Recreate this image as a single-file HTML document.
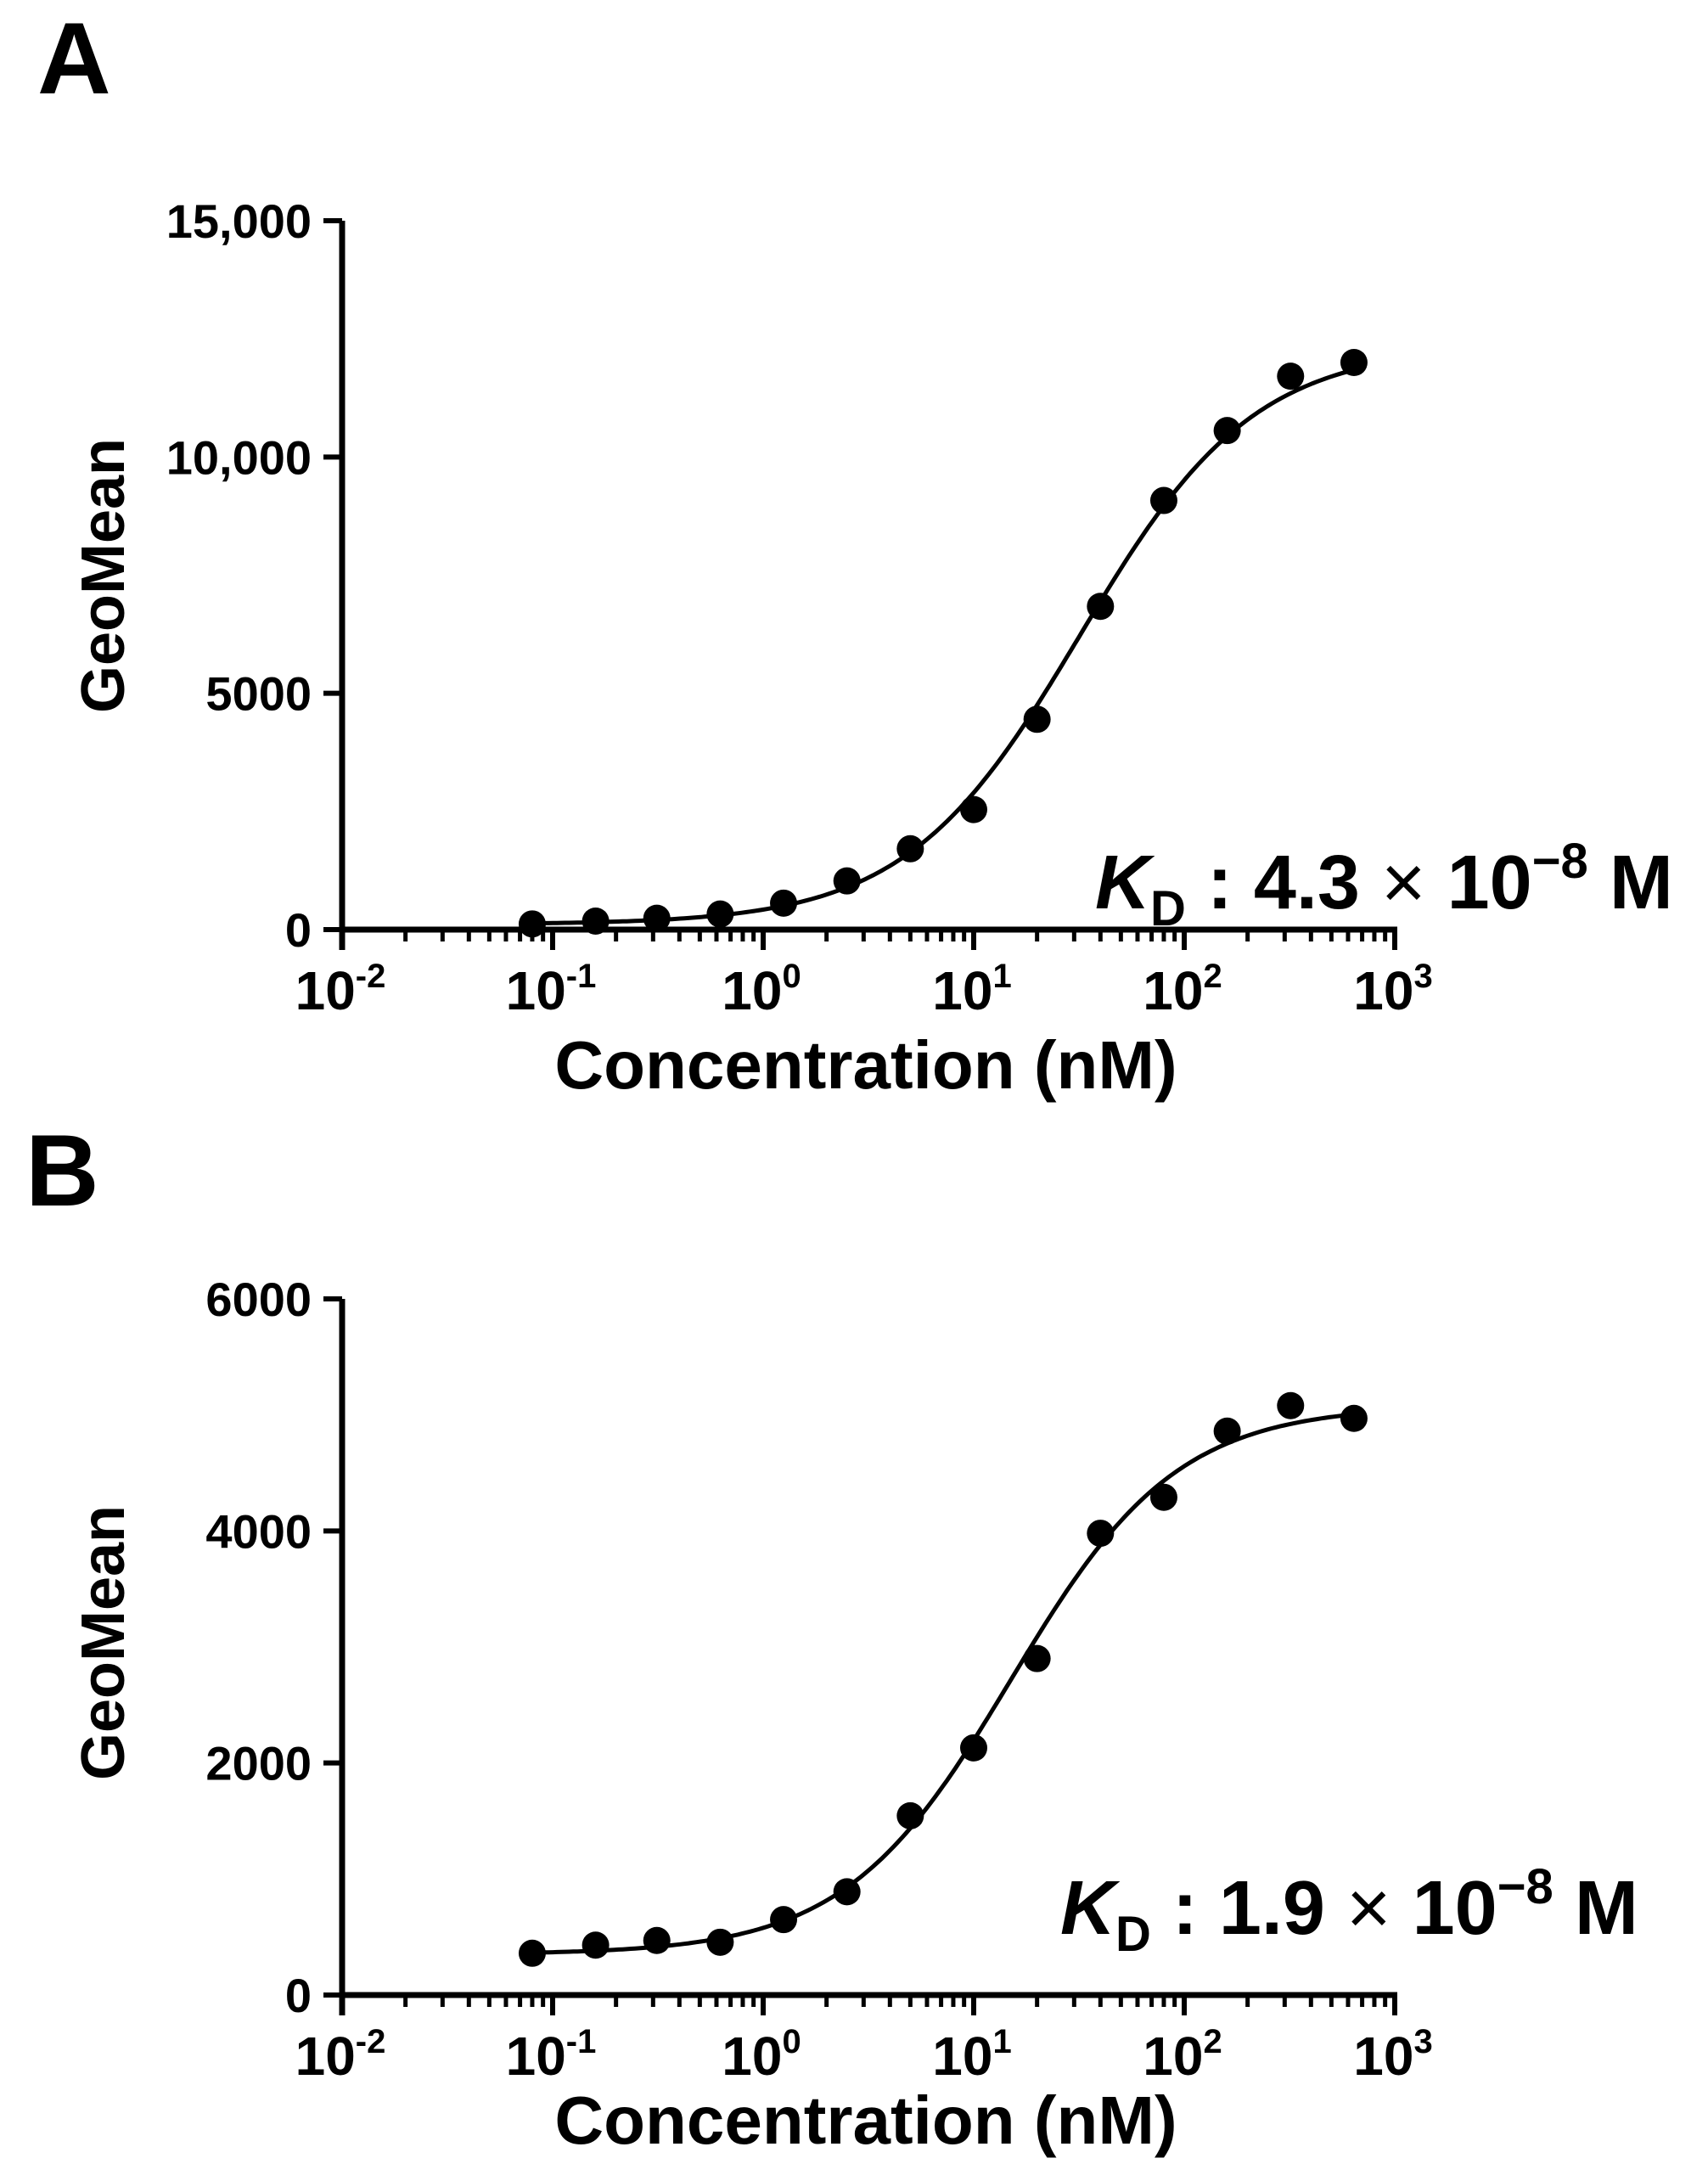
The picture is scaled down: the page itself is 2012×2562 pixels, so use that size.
<!DOCTYPE html>
<html><head><meta charset="utf-8"><style>
html,body{margin:0;padding:0;background:#fff;}
svg{display:block;font-family:"Liberation Sans",Arial,sans-serif;font-weight:bold;}
</style></head><body>
<svg id="fig" width="2012" height="2562" viewBox="0 0 2012 2562" xmlns="http://www.w3.org/2000/svg">
<text x="44" y="110" font-size="120">A</text>
<text x="30" y="1420" font-size="120">B</text>
<g id="chartA"></g>
<g id="chartB"></g>
</svg>
<script>
const concentrations = [0.08,0.16,0.3125,0.625,1.25,2.5,5,10,20,40,80,160,320,640];
const valuesA = [120,180,240,330,560,1030,1710,2540,4450,6840,9080,10560,11710,12000];
const valuesB = [360,430,470,455,650,890,1545,2130,2900,3980,4290,4860,5080,4970];
const yTicksA = [0,5000,10000,15000];
const yTickLabelsA = ["0","5000","10,000","15,000"];
const yTicksB = [0,2000,4000,6000];
const yTickLabelsB = ["0","2000","4000","6000"];
const xDecades = [-2,-1,0,1,2,3];
const fitA = {bottom:110, top:12350, ec50:32, hill:1.05};
const fitB = {bottom:350, top:5080, ec50:15, hill:1.1};
const NS = "http://www.w3.org/2000/svg";

function mk(parent, tag, attrs){
  const e = document.createElementNS(NS, tag);
  for (const k in attrs) e.setAttribute(k, attrs[k]);
  parent.appendChild(e);
  return e;
}

function drawChart(g, cfg){
  const x0 = 403, x1 = 1643, yBase = cfg.yBase, yTop = cfg.yTop;
  const xs = v => x0 + (Math.log10(v) + 2) / 5 * (x1 - x0);
  const ys = v => yBase - v / cfg.yMax * (yBase - yTop);
  const ya = mk(g, "line", {x1:x0, y1:yTop, x2:x0, y2:yBase+24, stroke:"#000", "stroke-width":7});
  
  
  const xa = mk(g, "line", {x1:x0-3, y1:yBase, x2:x1+3, y2:yBase, stroke:"#000", "stroke-width":7});
  
  
  cfg.yTicks.forEach((v,i) => {
    const y = ys(v);
    const t = mk(g, "line", {x1:x0-22, y1:y, x2:x0, y2:y, stroke:"#000", "stroke-width":6});
    
    
    const l = mk(g, "text", {x:367, y:y+20, "font-size":56, "text-anchor":"end"});
    l.textContent = cfg.yLabels[i];
    
    
  });
  xDecades.forEach((d, i) => {
    const x = xs(Math.pow(10, d));
    const t = mk(g, "line", {x1:x, y1:yBase, x2:x, y2:yBase+24, stroke:"#000", "stroke-width":6});
    
    
    const l = mk(g, "text", {x:x-2, y:yBase+94, "font-size":64, "text-anchor":"middle"});
    
    
    l.appendChild(document.createTextNode("10"));
    const s = mk(l, "tspan", {dy:-26, "font-size":40});
    s.textContent = String(d);
    if (i < xDecades.length - 1) {
      for (let m = 2; m <= 9; m++) {
        const xm = xs(m * Math.pow(10, d));
        const mt = mk(g, "line", {x1:xm, y1:yBase, x2:xm, y2:yBase+14, stroke:"#000", "stroke-width":5});
        
        
      }
    }
  });
  const f = cfg.fit;
  let dPath = "";
  for (let i = 0; i <= 200; i++) {
    const lx = Math.log10(concentrations[0]) + i / 200 * (Math.log10(concentrations[concentrations.length-1]) - Math.log10(concentrations[0]));
    const c = Math.pow(10, lx);
    const v = f.bottom + (f.top - f.bottom) * Math.pow(c, f.hill) / (Math.pow(c, f.hill) + Math.pow(f.ec50, f.hill));
    dPath += (i ? "L" : "M") + xs(c).toFixed(1) + " " + ys(v).toFixed(1);
  }
  const p = mk(g, "path", {d:dPath, fill:"none", stroke:"#000", "stroke-width":5});
  
  
  cfg.values.forEach((v, i) => {
    const c = mk(g, "circle", {cx:xs(concentrations[i]), cy:ys(v), r:16, fill:"#000"});
    
    
  });
  const xt = mk(g, "text", {x:1020, y:cfg.xTitleY, "font-size":80, "text-anchor":"middle"});
  xt.textContent = "Concentration (nM)";
  
  
  const yt = mk(g, "text", {x:0, y:0, "font-size":72, "text-anchor":"middle", transform:"translate(146," + cfg.yTitleY + ") rotate(-90)"});
  yt.textContent = "GeoMean";
  
  
  const kd = mk(g, "text", {x:cfg.kdX, y:cfg.kdY, "font-size":90});
  
  
  const k = mk(kd, "tspan", {"font-style":"italic"}); k.textContent = "K";
  const sub = mk(kd, "tspan", {dy:20, "font-size":58}); sub.textContent = "D";
  const rest = mk(kd, "tspan", {dy:-20}); rest.textContent = " : " + cfg.kdVal + " ";
  const times = mk(kd, "tspan", {"font-weight":"normal"}); times.textContent = "\u00D7";
  const ten = mk(kd, "tspan", {}); ten.textContent = " 10";
  const sup = mk(kd, "tspan", {dy:-36, "font-size":58}); sup.textContent = "\u22128";
  const m = mk(kd, "tspan", {dy:36}); m.textContent = " M";
}

drawChart(document.getElementById("chartA"), {yBase:1095, yTop:260, yMax:15000, yTicks:yTicksA, yLabels:yTickLabelsA, values:valuesA, fit:fitA, xTitleY:1282, yTitleY:678, kdX:1290, kdY:1070, kdVal:"4.3"});
drawChart(document.getElementById("chartB"), {yBase:2350, yTop:1530, yMax:6000, yTicks:yTicksB, yLabels:yTickLabelsB, values:valuesB, fit:fitB, xTitleY:2525, yTitleY:1935, kdX:1249, kdY:2278, kdVal:"1.9"});
</script>
</body></html>
